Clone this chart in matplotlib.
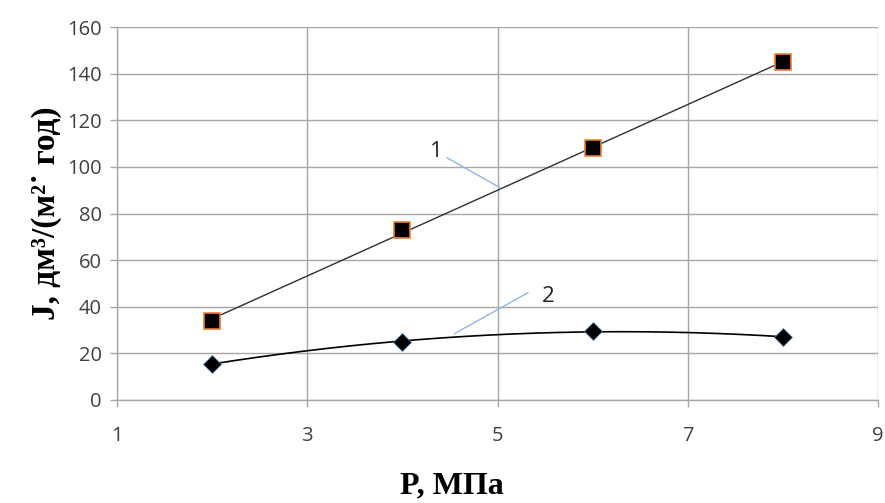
import numpy as np
import matplotlib
matplotlib.use("Agg")
import matplotlib.pyplot as plt

# Data
pressure = [2, 4, 6, 8]
flux_1 = [34, 73, 108, 145]
flux_2 = [15.5, 25, 29.5, 27]
x_ticks = [1, 3, 5, 7, 9]
y_ticks = [0, 20, 40, 60, 80, 100, 120, 140, 160]

fig = plt.figure(figsize=(8.85, 5.03), dpi=100)
ax = fig.add_axes([0.1322, 0.205, 0.860, 0.741])

grid_c = "#a6a6a6"
ax.set_xlim(1, 9)
ax.set_ylim(0, 160)
ax.set_xticks(x_ticks)
ax.set_yticks(y_ticks)
ax.grid(True, color=grid_c, linewidth=1.0)
ax.set_axisbelow(True)
for s in ["top", "right"]:
    ax.spines[s].set_visible(False)
for s in ["left", "bottom"]:
    ax.spines[s].set_color(grid_c)
    ax.spines[s].set_linewidth(1.0)
ax.tick_params(axis="both", direction="out", length=5, color=grid_c,
               labelsize=14.5, labelcolor="#404040", width=1.0)
ax.tick_params(axis="x", pad=14)
ax.tick_params(axis="y", pad=6)
for lab in ax.get_xticklabels() + ax.get_yticklabels():
    lab.set_fontfamily("Open Sans")

# Trendlines
xs = np.linspace(min(pressure), max(pressure), 200)
c1 = np.polyfit(pressure, flux_1, 1)
c2 = np.polyfit(pressure, flux_2, 2)
ax.plot(xs, np.polyval(c1, xs), color="#303030", linewidth=1.0, zorder=3)
ax.plot(xs, np.polyval(c2, xs), color="#000000", linewidth=1.2, zorder=3)

# Markers
ax.plot(pressure, flux_1, linestyle="none", marker="s", markersize=11,
        markerfacecolor="black", markeredgecolor="#ed7d31", markeredgewidth=1.2, zorder=4)
ax.plot(pressure, flux_2, linestyle="none", marker="D", markersize=9,
        markerfacecolor="black", markeredgecolor="#4f81bd", markeredgewidth=0.5, zorder=4)

# Leader labels
lead_c = "#8db8e2"
ax.plot([4.47, 5.03], [103.9, 91.0], color=lead_c, linewidth=1.0, zorder=3)
ax.text(4.36, 106.5, "1", fontsize=16, fontfamily="Open Sans", color="#222222",
        ha="center", va="center")
ax.plot([5.32, 4.55], [46.0, 28.5], color=lead_c, linewidth=1.0, zorder=3)
ax.text(5.53, 44.5, "2", fontsize=16, fontfamily="Open Sans", color="#222222",
        ha="center", va="center")

fig.text(452 / 885, 0.033, "P, МПа", fontsize=23, fontweight="bold",
         fontfamily="Liberation Serif", ha="center", va="center")
ax.set_ylabel("J, дм³/(м²˙ год)", fontsize=24, fontweight="bold",
              fontfamily="Liberation Serif", labelpad=4)

fig.savefig("out.png", dpi=100)
